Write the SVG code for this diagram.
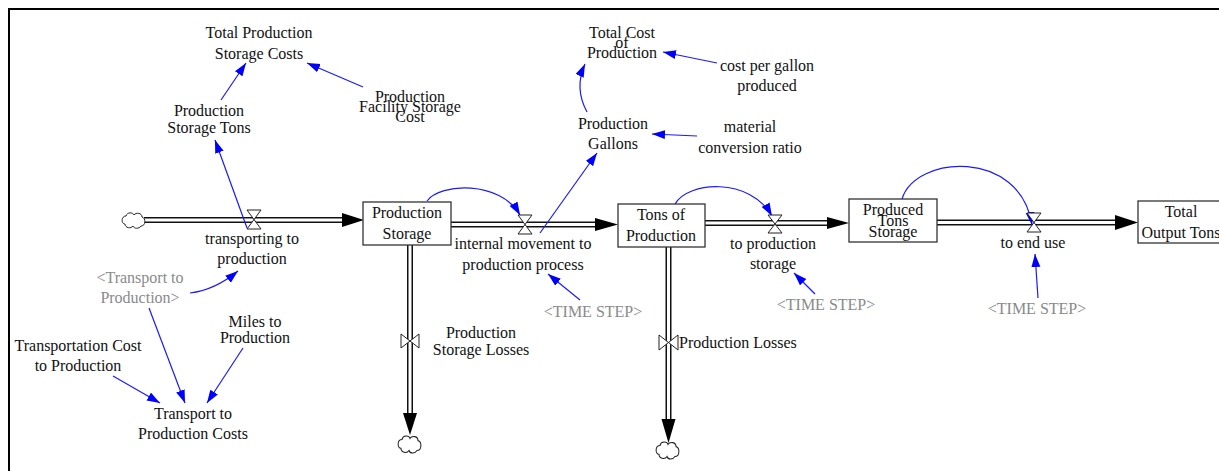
<svg xmlns="http://www.w3.org/2000/svg" width="1219" height="471" viewBox="0 0 1219 471">
<defs>
<style>
text{font-family:"Liberation Serif","Times New Roman",serif;font-size:16px;fill:#111;text-anchor:middle}
.g{fill:#8a8a8a}
.box{fill:#fff;stroke:#333;stroke-width:1.3}
.po{stroke:#111;stroke-width:6;fill:none}
.pi{stroke:#fff;stroke-width:3;fill:none}
.ah{fill:#000}
.valve{fill:#fff;stroke:#222;stroke-width:1}
.cloud{fill:#fff;stroke:#222;stroke-width:1}
.lk{stroke:#1a1aff;stroke-width:1.2;fill:none;marker-end:url(#bh)}
</style>
<marker id="bh" markerUnits="userSpaceOnUse" markerWidth="14" markerHeight="10" refX="13" refY="4.5" orient="auto">
<path d="M0,0 L13,4.5 L0,9 Z" fill="#0000ff"/>
</marker>
<path id="cl" d="M-9,3 C-13,3 -13,-5 -8,-5 C-7,-9 -1,-9 0,-6 C2,-9 8,-8 8,-4 C12,-3 12,5 7,5 C5,8 0,8 -1,5 C-3,8 -9,7 -9,3 Z"/>
</defs>
<rect x="0" y="0" width="1219" height="471" fill="#fff"/>
<rect x="9" y="9" width="1240" height="500" fill="none" stroke="#000" stroke-width="2"/>

<g id="connectors">
<!-- pipes -->
<path class="po" d="M144,220 H345"/><path class="pi" d="M144,220 H345"/>
<polygon class="ah" points="342,213 364,220 342,227"/>
<path class="po" d="M451,224.5 H598"/><path class="pi" d="M451,224.5 H598"/>
<polygon class="ah" points="595,218 618,224.5 595,231"/>
<path class="po" d="M705,223 H830"/><path class="pi" d="M705,223 H830"/>
<polygon class="ah" points="827,217 849,223 827,229"/>
<path class="po" d="M937,222.5 H1117"/><path class="pi" d="M937,222.5 H1117"/>
<polygon class="ah" points="1115,215 1138,222.5 1115,230"/>
<path class="po" d="M410,245 V416"/><path class="pi" d="M410,245 V416"/>
<polygon class="ah" points="403,413 410,435 417,413"/>
<path class="po" d="M668.5,247 V422"/><path class="pi" d="M668.5,247 V422"/>
<polygon class="ah" points="661.5,419 668.5,443 675.5,419"/>
<!-- links -->
<path class="lk" d="M247,228 L215,140"/>
<path class="lk" d="M221,100 L246,63"/>
<path class="lk" d="M363,87 L307,63"/>
<path class="lk" d="M427,201 C440,183 500,180 520,215"/>
<path class="lk" d="M540,233 L597,153"/>
<path class="lk" d="M587,112 Q574,88 585,64"/>
<path class="lk" d="M717,63 L663,52"/>
<path class="lk" d="M697,136 L652,134"/>
<path class="lk" d="M675,204 C688,181 750,177 772,216"/>
<path class="lk" d="M902,199 C915,155 1020,148 1032,225"/>
<path class="lk" d="M580,300 L548,274"/>
<path class="lk" d="M815,294 L794,273"/>
<path class="lk" d="M1038,298 L1035,254"/>
<path class="lk" d="M190,293 Q215,290 238,271"/>
<path class="lk" d="M149,308 L185,403"/>
<path class="lk" d="M243,348 L207,403"/>
<path class="lk" d="M113,376 L160,403"/>
</g>

<g id="source-cloud"><use href="#cl" class="cloud" transform="translate(134,221)"/></g>
<g id="sink-cloud-1"><use href="#cl" class="cloud" transform="translate(410,445) scale(1,1.1)"/></g>
<g id="sink-cloud-2"><use href="#cl" class="cloud" transform="translate(668,451) scale(1,1.1)"/></g>

<g id="production-storage">
<rect class="box" x="363" y="202" width="88" height="43"/>
<text x="407" y="218">Production</text><text x="407" y="239">Storage</text>
</g>
<g id="tons-of-production">
<rect class="box" x="618" y="204" width="87" height="43"/>
<text x="661" y="220">Tons of</text><text x="661" y="241">Production</text>
</g>
<g id="produced-tons-storage">
<rect class="box" x="849" y="199" width="88" height="43"/>
<text x="893" y="215">Produced</text><text x="893" y="226">Tons</text><text x="893" y="237">Storage</text>
</g>
<g id="total-output-tons">
<rect class="box" x="1138" y="201" width="88" height="42"/>
<text x="1181" y="217">Total</text><text x="1181" y="238">Output Tons</text>
</g>

<g id="transporting-to-production">
<path class="valve" d="M247,210 L261,210 L247,229 L261,229 Z"/>
<text x="252" y="244">transporting to</text><text x="252" y="264">production</text>
</g>
<g id="internal-movement">
<path class="valve" d="M518,215 L532,215 L518,234 L532,234 Z"/>
<text x="523" y="249">internal movement to</text><text x="523" y="270">production process</text>
</g>
<g id="to-production-storage">
<path class="valve" d="M768,215 L782,215 L768,233 L782,233 Z"/>
<text x="773" y="249">to production</text><text x="773" y="269">storage</text>
</g>
<g id="to-end-use">
<path class="valve" d="M1027,213 L1041,213 L1027,232 L1041,232 Z"/>
<text x="1033" y="248">to end use</text>
</g>
<g id="production-storage-losses">
<path class="valve" d="M401,334 L401,348 L419,334 L419,348 Z"/>
<text x="481" y="338">Production</text><text x="481" y="355">Storage Losses</text>
</g>
<g id="production-losses">
<path class="valve" d="M659,335 L659,350 L678,335 L678,350 Z"/>
<text x="679" y="348" style="text-anchor:start">Production Losses</text>
</g>

<g id="total-production-storage-costs"><text x="259" y="38">Total Production</text><text x="259" y="59">Storage Costs</text></g>
<g id="production-storage-tons"><text x="209" y="116">Production</text><text x="209" y="133">Storage Tons</text></g>
<g id="production-facility-storage-cost"><text x="410" y="102">Production</text><text x="410" y="112">Facility Storage</text><text x="410" y="122">Cost</text></g>
<g id="total-cost-of-production"><text x="622" y="38">Total Cost</text><text x="622" y="48">of</text><text x="622" y="58">Production</text></g>
<g id="cost-per-gallon"><text x="767" y="71">cost per gallon</text><text x="767" y="91">produced</text></g>
<g id="production-gallons"><text x="613" y="129">Production</text><text x="613" y="149">Gallons</text></g>
<g id="material-conversion-ratio"><text x="750" y="132">material</text><text x="750" y="153">conversion ratio</text></g>
<g id="transport-to-production-shadow"><text class="g" x="140" y="283">&lt;Transport to</text><text class="g" x="140" y="303">Production&gt;</text></g>
<g id="miles-to-production"><text x="255" y="327">Miles to</text><text x="255" y="343">Production</text></g>
<g id="transportation-cost"><text x="78" y="351">Transportation Cost</text><text x="78" y="371">to Production</text></g>
<g id="transport-to-production-costs"><text x="193" y="419">Transport to</text><text x="193" y="439">Production Costs</text></g>
<g id="time-step-1"><text class="g" x="593" y="317">&lt;TIME STEP&gt;</text></g>
<g id="time-step-2"><text class="g" x="826" y="310">&lt;TIME STEP&gt;</text></g>
<g id="time-step-3"><text class="g" x="1037" y="314">&lt;TIME STEP&gt;</text></g>
</svg>
